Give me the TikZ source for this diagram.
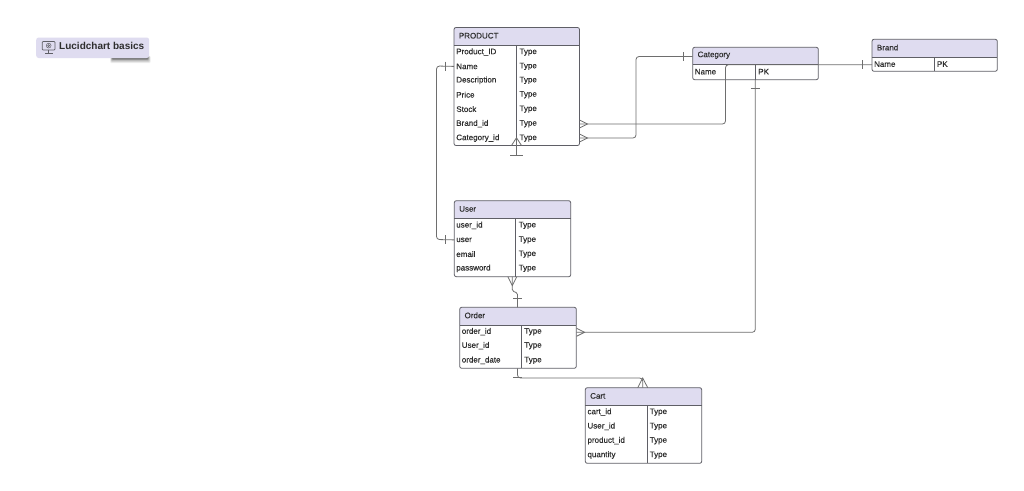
\documentclass[tikz,border=0pt]{standalone}
\usepackage{fontspec}
\setmainfont{Liberation Sans}
\newfontfamily\rowfont[FakeBold=0.35]{Liberation Sans}
\newfontfamily\headfont[FakeBold=0.1]{Liberation Sans}
\usetikzlibrary{calc}
\definecolor{headfill}{HTML}{DFDCF0}
\definecolor{edgecol}{HTML}{5F5F66}
\definecolor{linkcol}{HTML}{6E6E6E}
\definecolor{txtcol}{HTML}{2E2E2E}
\tikzset{
  x=1pt,y=-1pt,
  entbox/.style={draw=edgecol,line width=0.8pt,rounded corners=2pt,anchor=north west,inner sep=0pt,outer sep=0pt},
  divider/.style={draw=edgecol,line width=0.8pt},
  link/.style={draw=linkcol,line width=0.8pt,rounded corners=3pt},
  mark line/.style={draw=linkcol,line width=0.8pt},
  celltext/.style={anchor=west,inner sep=0pt,text=txtcol,font=\rowfont\fontsize{8}{9}\selectfont},
  titletext/.style={anchor=west,inner sep=0pt,text=txtcol,font=\headfont\fontsize{8}{9}\selectfont},
}
% id, x1, y1, x2, y2, header bottom, column x, title
\newcommand\ertable[8]{%
  \fill[headfill] (#2,#6) [rounded corners=2pt] -- (#2,#3) -- (#4,#3) [sharp corners] -- (#4,#6) -- cycle;
  \pgfmathsetlengthmacro{\tw}{#4-#2}%
  \pgfmathsetlengthmacro{\th}{#5-#3}%
  \node[entbox,minimum width=\tw,minimum height=\th] (#1) at (#2,#3) {};
  \draw[divider] (#2,#6) -- (#4,#6);
  \draw[divider] (#7,#6) -- (#7,#5);
  \node[titletext] (#1-title) at (#2+4.7,{(#3+#6)/2-0.8}) {#8};
}
% id, x of left cell, x of right cell, y, left text, right text
\newcommand\errow[6]{%
  \node[celltext] (#1) at (#2-0.4,#4+0.4) {#5};
  \node[celltext] (#1-t) at (#3-0.2,#4+0.4) {#6};
}
% crow's foot: apex, prong offset 1, prong offset 2
\newcommand\crowfoot[3]{\draw[mark line] ($(#1)+(#2)$) -- (#1) -- ($(#1)+(#3)$);}
% crossing bar: centre, half-length vector
\newcommand\crossbar[2]{\draw[mark line] ($(#1)-(#2)$) -- ($(#1)+(#2)$);}
\begin{document}
\begin{tikzpicture}
\useasboundingbox (0,0) rectangle (1024,490);
\fill[white] (0,0) rectangle (1024,490);

% badge
\foreach \o/\s in {5/6,4/12,3/20,2/30,1/42,0/55}{
  \fill[black!\s!white,rounded corners=1pt] (112-\o/3,56) rectangle (148+\o/2,59+\o/1.2);
}
\node[fill=headfill,rounded corners=2.5pt,minimum width=113pt,minimum height=20.5pt,anchor=north west,inner sep=0pt] (badge) at (36,37.3) {};
\node[anchor=west,inner sep=0pt,text=txtcol,font=\bfseries\fontsize{10}{11}\selectfont] (badgetext) at (59,46.4) {Lucidchart basics};
\draw[edgecol,line width=0.7pt,rounded corners=0.8pt] (42.3,41.5) rectangle (55,50);
\draw[edgecol,line width=0.5pt] (48.7,45.6) circle (2.4pt) (48.7,45.6) circle (1pt);
\draw[edgecol,line width=0.7pt] (48.7,50) -- (48.7,53) (45,53.2) -- (52.5,53.2);

% tables
\ertable{product}{454}{27.5}{579.5}{145.5}{45.5}{516.5}{PRODUCT}
\errow{p1}{456.5}{519.5}{51.7}{Product\_ID}{Type}
\errow{p2}{456.5}{519.5}{66}{Name}{Type}
\errow{p3}{456.5}{519.5}{80}{Description}{Type}
\errow{p4}{456.5}{519.5}{94.3}{Price}{Type}
\errow{p5}{456.5}{519.5}{108.7}{Stock}{Type}
\errow{p6}{456.5}{519.5}{123.3}{Brand\_id}{Type}
\errow{p7}{456.5}{519.5}{137.7}{Category\_id}{Type}

\ertable{category}{692.7}{47.3}{818.3}{79.7}{64.7}{755.3}{Category}
\errow{c1}{695}{758.3}{71.3}{Name}{PK}

\ertable{brand}{872}{39.3}{997.3}{71.3}{57.3}{934.3}{Brand}
\errow{b1}{874.3}{937}{63.7}{Name}{PK}

\ertable{user}{454.3}{200.7}{570.7}{276.7}{218.7}{515.7}{User}
\errow{u1}{456.5}{518.7}{225}{user\_id}{Type}
\errow{u2}{456.5}{518.7}{239.5}{user}{Type}
\errow{u3}{456.5}{518.7}{253.7}{email}{Type}
\errow{u4}{456.5}{518.7}{268}{password}{Type}

\ertable{order}{459.7}{307.3}{576.3}{368.3}{325}{521.3}{Order}
\errow{o1}{462}{524.3}{331.3}{order\_id}{Type}
\errow{o2}{462}{524.3}{345.3}{User\_id}{Type}
\errow{o3}{462}{524.3}{360}{order\_date}{Type}

\ertable{cart}{585.3}{387.7}{701.7}{463.3}{405.7}{647.3}{Cart}
\errow{k1}{587.7}{649.7}{411.7}{cart\_id}{Type}
\errow{k2}{587.7}{649.7}{426}{User\_id}{Type}
\errow{k3}{587.7}{649.7}{440.3}{product\_id}{Type}
\errow{k4}{587.7}{649.7}{454.7}{quantity}{Type}

% Product.Name -- User.user
\draw[link] (product.west |- p2) -- (436.5,66) -- (436.5,239.5) -- (user.west |- u2);
\coordinate (m1) at (445,66); \crossbar{m1}{0,4.5}
\coordinate (m2) at (445,239.5); \crossbar{m2}{0,4.5}

% Product.Brand_id -- Brand.Name
\coordinate (bfoot) at (587.5,124);
\draw[link] (product.east |- bfoot) -- (725.5,124) -- (725.5,64.7) -- (brand.west |- 0,64.7);
\crowfoot{bfoot}{-8,-4}{-8,4}
\coordinate (m3) at (862.5,64.7); \crossbar{m3}{0,4.5}

% Product.Category_id -- Category
\coordinate (cfoot) at (587.5,138);
\draw[link] (product.east |- cfoot) -- (636,138) -- (636,56.5) -- (category.west |- 0,56.5);
\crowfoot{cfoot}{-8,-4}{-8,4}
\coordinate (m4) at (683,56.5); \crossbar{m4}{0,4.5}

% Order -- Category
\coordinate (ofoot) at (584.5,332.3);
\draw[link] (order.east |- ofoot) -- (755.3,332.3) -- (category.south -| 755.3,0);
\crowfoot{ofoot}{-8,-4}{-8,4}
\coordinate (m5) at (755.3,88.3); \crossbar{m5}{4.5,0}

% Product bottom, free end
\coordinate (pfree) at (516.5,155);
\coordinate (pfoot) at (516.5,137.7);
\draw[link] (pfree) -- (pfoot);
\crowfoot{pfoot}{-5,7.8}{5,7.8}
\crossbar{pfree}{6.5,0}

% User -- Order
\coordinate (ufoot) at (512.3,285.5);
\coordinate (m6) at (517.5,298);
\draw[link,rounded corners=1.5pt] (user.south -| ufoot) -- (512.3,291) -- (517.5,293) -- (order.north -| m6);
\crowfoot{ufoot}{-4.5,-8.8}{4.5,-8.8}
\crossbar{m6}{4.5,0}

% Order -- Cart
\coordinate (kfoot) at (642.7,378);
\coordinate (m7) at (517.5,377.7);
\draw[link] (order.south -| m7) -- (517.5,378) -- (642.7,378) -- (cart.north -| kfoot);
\crowfoot{kfoot}{-5,9.7}{5,9.7}
\crossbar{m7}{4.5,0}
\end{tikzpicture}
\end{document}
